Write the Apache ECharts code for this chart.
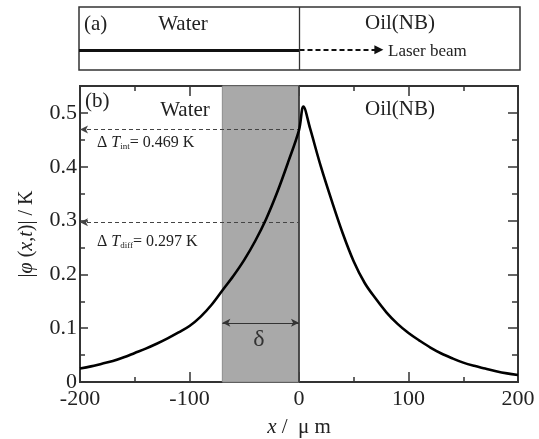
<!DOCTYPE html>
<html><head><meta charset="utf-8">
<script src="https://cdn.jsdelivr.net/npm/echarts@6/dist/echarts.min.js"></script>
<style>html,body{margin:0;padding:0;background:#fff}#c{width:539px;height:439px}</style>
</head><body><div id="c"></div>
<script>
// ---- data ----
const xPos = [-200,-190,-180,-170,-160,-150,-140,-130,-120,-110,-100,-90,-80,-70,-60,-50,-40,-30,-20,-10,0,4,10,20,30,40,50,60,70,80,90,100,110,120,130,140,150,160,170,180,190,200];
const phiAbs = [0.025,0.029,0.034,0.039,0.046,0.054,0.062,0.071,0.081,0.092,0.104,0.121,0.143,0.170,0.197,0.227,0.262,0.303,0.352,0.408,0.468,0.512,0.472,0.400,0.336,0.276,0.224,0.184,0.155,0.129,0.108,0.091,0.077,0.064,0.053,0.044,0.036,0.030,0.025,0.020,0.016,0.013];
const xTickLabels = ['-200','-100','0','100','200'];
const yTickLabels = ['0','0.1','0.2','0.3','0.4','0.5'];
const deltaRange = [-70, 0];
const dTint = 0.469;
const dTdiff = 0.297;
const deltaArrowY = 0.11;
const beamWater = [-200, 0];
const beamOil = [0, 72];

const F = '"Liberation Serif","Times New Roman",serif';
const C = '#222';
const chart = echarts.init(document.getElementById('c'), null, {renderer:'canvas'});
const curve = xPos.map((x,i)=>[x, phiAbs[i]]);

function xAx(pos, interval, len, labels){
  return {type:'value', gridIndex:0, min:-200, max:200, interval:interval, position:pos,
    axisLine:{show:true, onZero:false, lineStyle:{color:'#333', width:1.8}},
    axisTick:{show:true, inside:true, length:len, lineStyle:{color:'#333', width:1.5}},
    splitLine:{show:false},
    axisLabel:{show:labels, color:C, fontFamily:F, fontSize:22, margin:6,
      formatter:v=>{const s=String(Math.round(v)); return xTickLabels.includes(s)?s:'';}},
    name:'', nameLocation:'middle', nameGap:35,
    nameTextStyle:{color:C, fontFamily:F, fontSize:21,
      rich:{i:{fontStyle:'italic', fontFamily:F, fontSize:21, color:C}, n:{fontFamily:F, fontSize:21, color:C}}}
  };
}
function yAx(pos, interval, len, labels){
  return {type:'value', gridIndex:0, min:0, max:0.55, interval:interval, position:pos,
    axisLine:{show:true, onZero:false, lineStyle:{color:'#333', width:1.8}},
    axisTick:{show:true, inside:true, length:len, lineStyle:{color:'#333', width:1.5}},
    splitLine:{show:false},
    axisLabel:{show:labels, color:C, fontFamily:F, fontSize:22, margin:3, showMaxLabel:false,
      formatter:v=>{const s=String(Math.round(v*10)/10); return (Math.abs(v*10-Math.round(v*10))<1e-6 && yTickLabels.includes(s))?s:'';}},
    name:'', nameLocation:'middle', nameGap:43, nameRotate:90,
    nameTextStyle:{color:C, fontFamily:F, fontSize:20,
      rich:{i:{fontStyle:'italic', fontFamily:F, fontSize:20, color:C}, n:{fontFamily:F, fontSize:20, color:C}}}
  };
}

const xAxes = [
  xAx('bottom',100,10,true),
  xAx('bottom',50,5,false),
  xAx('top',100,10,false),
  xAx('top',50,5,false),
  {type:'value', gridIndex:1, min:-200, max:200, show:false}
];
xAxes[0].name = '{i|x}{n| /  μ m}';
const yAxes = [
  yAx('left',0.1,8,true),
  yAx('left',0.05,5,false),
  yAx('right',0.1,10,false),
  yAx('right',0.05,6,false),
  {type:'value', gridIndex:1, min:0, max:1, show:false}
];
yAxes[0].name = '{n||}{i|φ}{n| (}{i|x,t}{n|)| / K}';

const option = {
  animation:false,
  backgroundColor:'#fff',
  grid:[
    {left:80, right:21, top:86, height:296, show:false, containLabel:false, outerBoundsMode:'none'},
    {left:79, right:19, top:7, height:63, show:true, borderColor:'#333', borderWidth:1.5, backgroundColor:'transparent', containLabel:false, outerBoundsMode:'none'}
  ],
  xAxis:xAxes,
  yAxis:yAxes,
  series:[
    {type:'line', xAxisIndex:0, yAxisIndex:0, data:curve, showSymbol:false, symbol:'none',
     smooth:0.35,
     lineStyle:{color:'#000', width:2.6}, z:5,
     markArea:{silent:true, itemStyle:{color:'#a9a9a9', borderColor:'#8c8c8c', borderWidth:1},
       data:[[{xAxis:deltaRange[0], yAxis:0},{xAxis:deltaRange[1], yAxis:0.55}]]},
     markLine:{silent:true, symbol:['none','none'], label:{show:false}, animation:false,
       data:[
         [{coord:[0,0], symbol:'none', lineStyle:{color:'#333', width:1.6, type:'solid'}},{coord:[0,0.55], symbol:'none'}],
         [{coord:[-200,dTint], symbol:'arrow', symbolSize:[6,8], lineStyle:{color:'#444', width:1, type:[4,3]}},{coord:[0,dTint], symbol:'none'}],
         [{coord:[-200,dTdiff], symbol:'arrow', symbolSize:[6,8], lineStyle:{color:'#444', width:1, type:[4,3]}},{coord:[0,dTdiff], symbol:'none'}],
         [{coord:[deltaRange[0],deltaArrowY], symbol:'arrow', symbolSize:[6,8], lineStyle:{color:'#333', width:1, type:'solid'}},{coord:[deltaRange[1],deltaArrowY], symbol:'arrow', symbolSize:[6,8]}]
       ]}
    },
    {type:'line', xAxisIndex:4, yAxisIndex:4, data:[], symbol:'none',
     markLine:{silent:true, label:{show:false}, animation:false,
       data:[
         [{coord:[beamWater[0],0.32], symbol:'none', lineStyle:{color:'#111', width:3, type:'solid'}},{coord:[beamWater[1],0.32], symbol:'none'}],
         [{coord:[beamOil[0],0.32], symbol:'none', lineStyle:{color:'#111', width:2.2, type:[5,3]}},{coord:[beamOil[1],0.32], symbol:'triangle', symbolSize:[9,9], symbolRotate:-90}],
         [{coord:[0,0], symbol:'none', lineStyle:{color:'#333', width:1.3, type:'solid'}},{coord:[0,1], symbol:'none'}]
       ]}
    }
  ],
  graphic:[
    {type:'text', z:100, x:84, y:24, style:{text:'(a)', font:'21px '+F, fill:C, align:'left', verticalAlign:'middle'}},
    {type:'text', z:100, x:183, y:24, style:{text:'Water', font:'21px '+F, fill:C, align:'center', verticalAlign:'middle'}},
    {type:'text', z:100, x:400, y:23, style:{text:'Oil(NB)', font:'21px '+F, fill:C, align:'center', verticalAlign:'middle'}},
    {type:'text', z:100, x:388, y:52, style:{text:'Laser beam', font:'17px '+F, fill:C, align:'left', verticalAlign:'middle'}},
    {type:'text', z:100, x:85, y:101, style:{text:'(b)', font:'21px '+F, fill:C, align:'left', verticalAlign:'middle'}},
    {type:'text', z:100, x:185, y:110, style:{text:'Water', font:'21px '+F, fill:C, align:'center', verticalAlign:'middle'}},
    {type:'text', z:100, x:400, y:109, style:{text:'Oil(NB)', font:'21px '+F, fill:C, align:'center', verticalAlign:'middle'}},
    {type:'text', z:100, x:97, y:143, style:{text:'{a|Δ }{t|T}{s|int}{a|= '+dTint+' K}', align:'left', verticalAlign:'middle',
      rich:{a:{font:'16px '+F, fill:C}, t:{font:'italic 16px '+F, fill:C}, s:{font:'9px '+F, fill:C, verticalAlign:'bottom', padding:[8,0,0,0]}}}},
    {type:'text', z:100, x:97, y:242, style:{text:'{a|Δ }{t|T}{s|diff}{a|= '+dTdiff+' K}', align:'left', verticalAlign:'middle',
      rich:{a:{font:'16px '+F, fill:C}, t:{font:'italic 16px '+F, fill:C}, s:{font:'9px '+F, fill:C, verticalAlign:'bottom', padding:[8,0,0,0]}}}},
    {type:'text', z:100, x:259, y:340, style:{text:'δ', font:'24px '+F, fill:'#333', align:'center', verticalAlign:'middle'}}
  ]
};
chart.setOption(option);
</script></body></html>
